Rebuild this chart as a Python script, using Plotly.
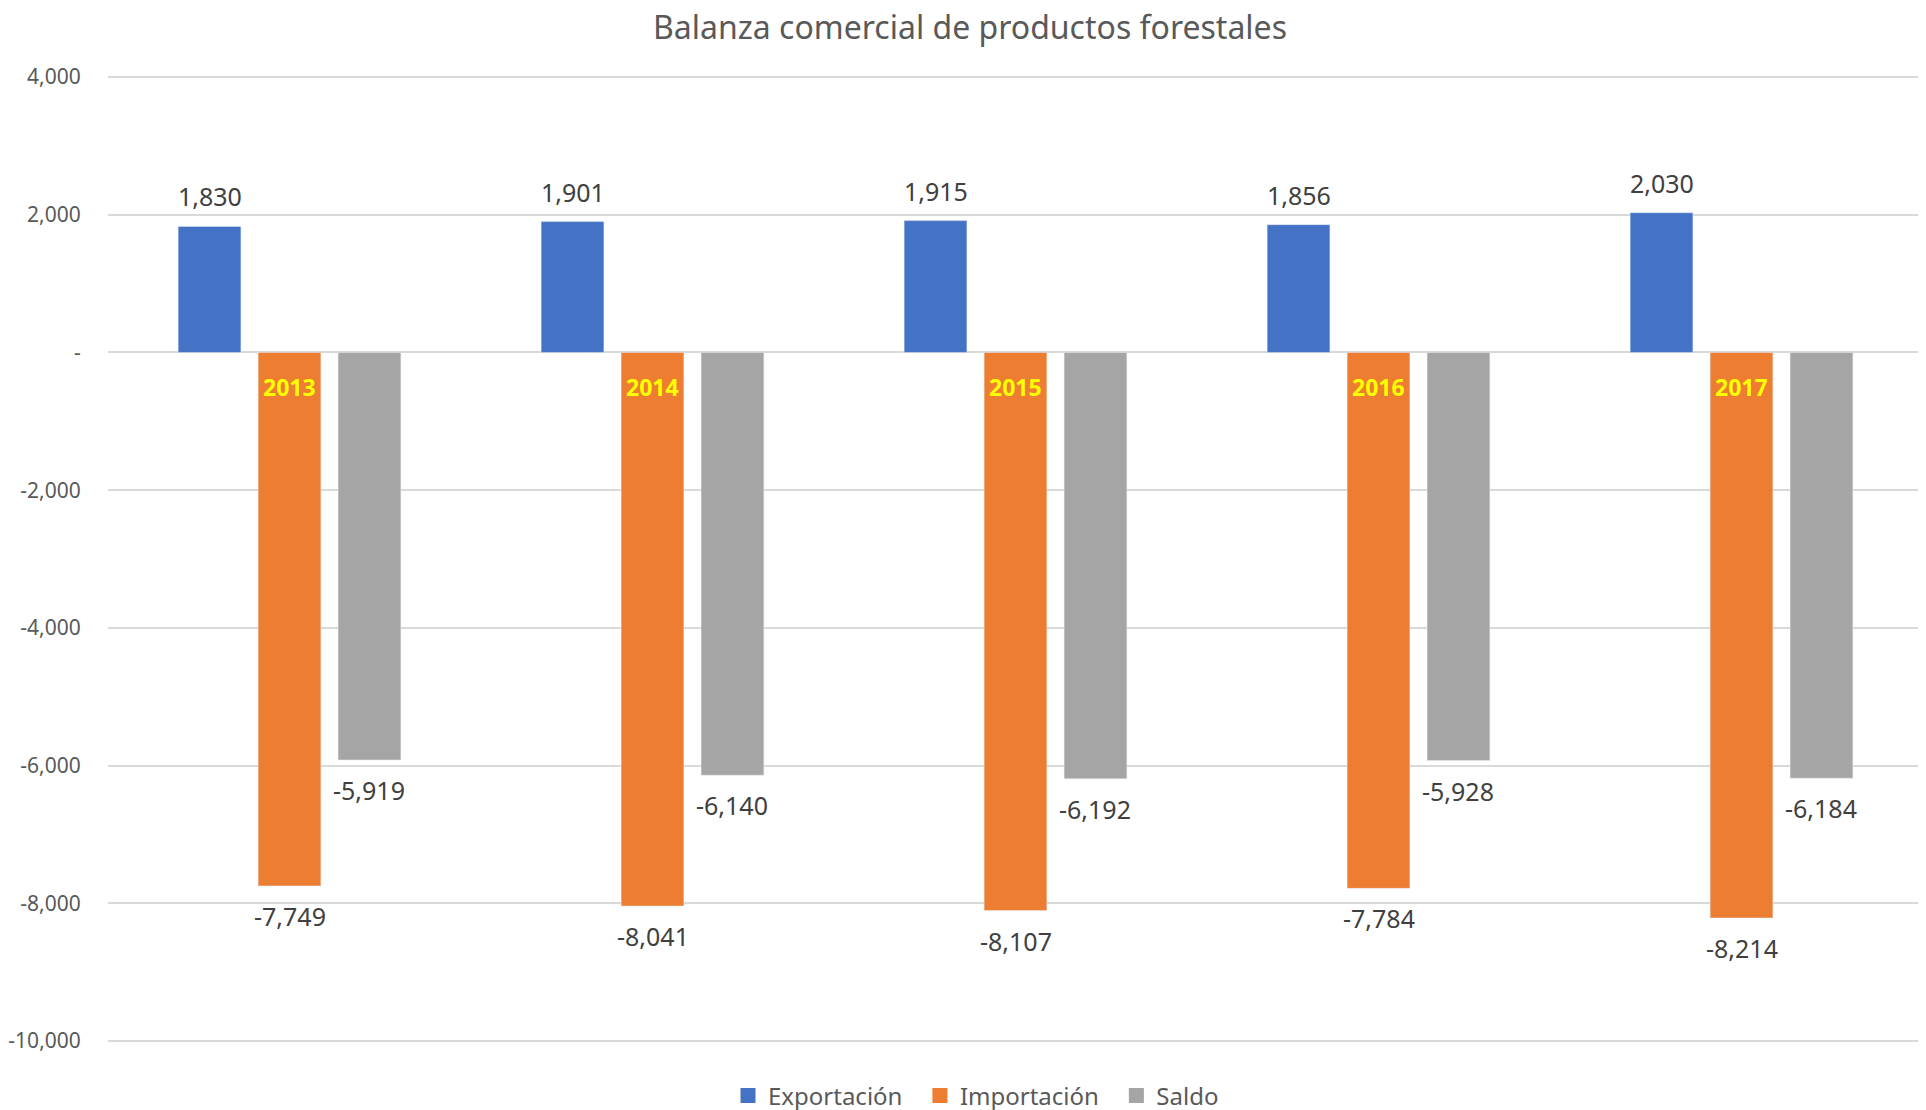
import plotly.graph_objects as go

# datos de la balanza comercial (millones)
years = ["2013", "2014", "2015", "2016", "2017"]
exportacion = [1830, 1901, 1915, 1856, 2030]
importacion = [-7749, -8041, -8107, -7784, -8214]
saldo = [-5919, -6140, -6192, -5928, -6184]

tick_vals = [4000, 2000, 0, -2000, -4000, -6000, -8000, -10000]
tick_text = ["4,000", "2,000", "-", "-2,000", "-4,000", "-6,000", "-8,000", "-10,000"]

FONT = "Noto Sans"
BARGAP = 0.339
NBSP = "\u00a0\u00a0"
series = [("Exportación", exportacion, "#4472C4"),
          ("Importación", importacion, "#ED7D31"),
          ("Saldo", saldo, "#A5A5A5")]

fig = go.Figure()
slot = (1 - BARGAP) / len(series)
for k, (name, vals, color) in enumerate(series):
    fig.add_trace(go.Bar(x=years, y=vals, name=name, marker_color=color,
                         showlegend=False, hoverinfo="y+name"))
    # leyenda con cuadrados más grandes
    label = name + (NBSP if k < len(series) - 1 else "")
    fig.add_trace(go.Scatter(x=[None], y=[None], mode="markers", name=label,
                             marker=dict(symbol="square", size=15, color=color)))
    # etiquetas de valor (un poco más separadas que el texto "outside")
    off = (k - 1) * slot
    for i, v in enumerate(vals):
        fig.add_annotation(x=i + off, y=v, text=f"{v:,}", showarrow=False,
                           yanchor="middle", yshift=30 if v > 0 else -30,
                           font=dict(family=FONT, size=25, color="#404040"))

# etiqueta del año dentro de la barra de importación
# (x por índice: "2013" en eje categórico se toma como índice)
for i, yr in enumerate(years):
    fig.add_annotation(x=i, y=0, text=f"<b>{yr}</b>", showarrow=False,
                       yanchor="top", yshift=-17,
                       font=dict(family=FONT, size=23, color="#FFFF00"))

fig.update_layout(
    width=1926, height=1110,
    title=dict(text="Balanza comercial de productos forestales", x=0.4995, xanchor="center",
               y=0.982, yanchor="middle",
               font=dict(family=FONT, size=32, color="#595959")),
    paper_bgcolor="white", plot_bgcolor="white",
    margin=dict(l=100, r=11, t=67, b=75),
    barmode="group", bargap=BARGAP, bargroupgap=0.215,
    legend=dict(orientation="h", xref="container", x=0.5026, xanchor="center",
                yref="container", y=0.02, yanchor="middle",
                font=dict(family=FONT, size=24, color="#595959")),
    showlegend=True,
)
fig.update_xaxes(type="category", categoryorder="array", categoryarray=years,
                 range=[-0.5, 4.5],
                 showticklabels=False, showgrid=False, zeroline=False, showline=False)
fig.update_yaxes(range=[-10030, 4030], tickvals=tick_vals, ticktext=tick_text,
                 showgrid=True, gridcolor="#D9D9D9", gridwidth=1.5, zeroline=False,
                 tickfont=dict(family=FONT, size=21, color="#595959"),
                 ticks="outside", ticklen=22, tickcolor="rgba(0,0,0,0)",
                 automargin=False)

fig.write_html("out.html")
